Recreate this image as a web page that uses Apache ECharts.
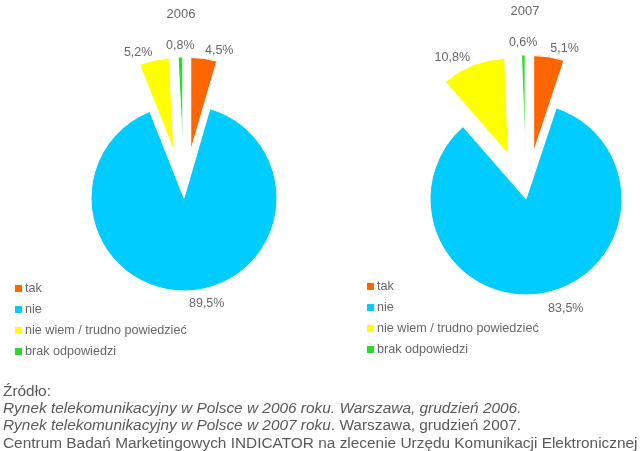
<!DOCTYPE html>
<html>
<head>
<meta charset="utf-8">
<script src="https://cdn.jsdelivr.net/npm/echarts@6/dist/echarts.min.js"></script>
<style>
  html, body { margin: 0; padding: 0; background: #fff; }
  #chart { width: 640px; height: 451px; }
</style>
</head>
<body>
<div id="chart"></div>
<script>
// kategorie odpowiedzi
const categories = ['tak', 'nie', 'nie wiem / trudno powiedzieć', 'brak odpowiedzi']
const colors = ['#ff6600', '#00ccff', '#ffff00', '#22e022']

// wartości w procentach
const values2006 = [4.5, 89.5, 5.2, 0.8]
const values2007 = [5.1, 83.5, 10.8, 0.6]

const years = ['2006', '2007']

const textColor = '#666666'
const footColor = '#595959'

const fmt = v => v.toFixed(1).replace('.', ',') + '%'

const buildData = (values, bigLen) => values.map((v, i) => {
  const item = {
    name: categories[i],
    value: v,
    selected: i !== 1,
    itemStyle: { color: colors[i] },
    select: { itemStyle: { color: colors[i] } }
  }
  // etykieta dużego wycinka trochę dalej od koła
  if (i === 1) item.labelLine = { show: false, length: bigLen, length2: 0 }
  return item
})

const pieSeries = (values, center, radius, bigLen) => ({
  type: 'pie',
  center: center,
  radius: radius,
  startAngle: 90,
  clockwise: true,
  selectedMode: 'multiple',
  selectedOffset: 48,
  avoidLabelOverlap: false,
  animation: false,
  itemStyle: { borderColor: '#fff', borderWidth: 1 },
  label: {
    show: true,
    position: 'outside',
    distanceToLabelLine: 0,
    color: textColor,
    fontSize: 12.5,
    fontFamily: 'Liberation Sans',
    formatter: p => fmt(p.value)
  },
  labelLine: { show: false, length: 8, length2: 0 },
  // najmniejszy wycinek ma etykietę wyśrodkowaną nad sobą
  labelLayout: p => (p.dataIndex === 3 ? { align: 'center', dy: -4 } : {}),
  emphasis: { disabled: true },
  data: buildData(values, bigLen)
})

const legendBase = {
  orient: 'vertical',
  icon: 'rect',
  itemWidth: 9,
  itemHeight: 9,
  itemGap: 8,
  selectedMode: false,
  textStyle: { color: textColor, fontSize: 12.6, fontFamily: 'Liberation Sans', padding: [0, 0, 0, -3] },
  data: categories
}

const titleStyle = { color: textColor, fontSize: 13, fontWeight: 'normal', fontFamily: 'Liberation Sans' }

// stopka ze źródłem
const footFont = '14px "Liberation Sans"'
const italic = { fontStyle: 'italic', fontSize: 14, fontFamily: 'Liberation Sans', fill: footColor }
const normal = { fontSize: 14, fontFamily: 'Liberation Sans', fill: footColor }
const footLine = (text, y) => ({
  type: 'text',
  x: 3,
  y: y,
  scaleX: 1.1,
  style: { text: text, fill: footColor, font: footFont, verticalAlign: 'middle', rich: { i: italic, n: normal } }
})

const chart = echarts.init(document.getElementById('chart'))
chart.setOption({
  backgroundColor: '#fff',
  title: [
    { text: years[0], left: 176, top: 3, textAlign: 'center', textStyle: titleStyle },
    { text: years[1], left: 520, top: 0, textAlign: 'center', textStyle: titleStyle }
  ],
  legend: [
    Object.assign({}, legendBase, { left: 8, top: 277 }),
    Object.assign({}, legendBase, { left: 360, top: 275 })
  ],
  series: [
    pieSeries(values2006, [184, 198], 93, 13),
    pieSeries(values2007, [526, 199], 96, 16)
  ],
  graphic: [
    footLine('Źródło:', 392),
    footLine('{i|Rynek telekomunikacyjny w Polsce w 2006 roku. Warszawa, grudzień 2006.}', 409),
    footLine('{i|Rynek telekomunikacyjny w Polsce w 2007 roku}{n|. Warszawa, grudzień 2007.}', 426),
    footLine('Centrum Badań Marketingowych INDICATOR na zlecenie Urzędu Komunikacji Elektronicznej', 444)
  ]
})
</script>
</body>
</html>
